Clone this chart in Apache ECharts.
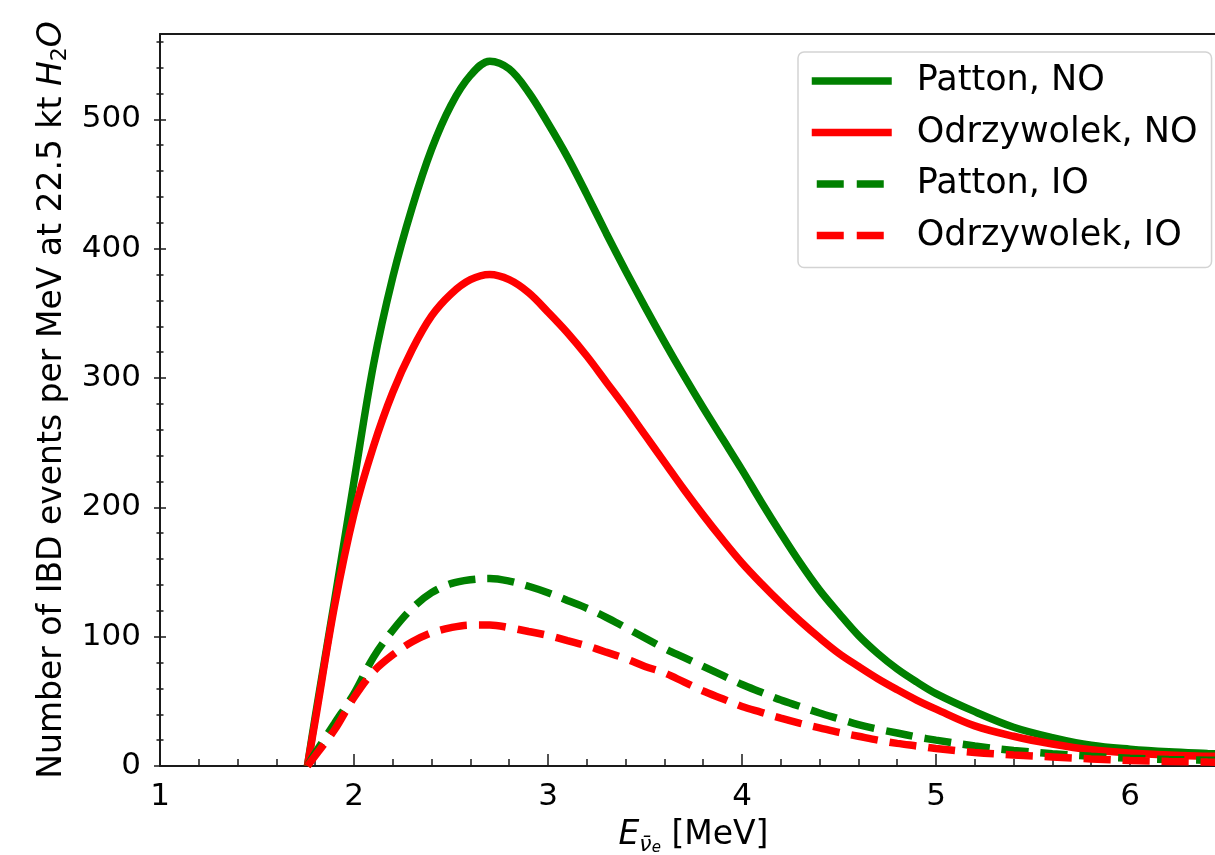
<!DOCTYPE html>
<html>
<head>
<meta charset="utf-8">
<script src="https://cdn.jsdelivr.net/npm/echarts@6/dist/echarts.min.js"></script>
<style>
  html, body { margin: 0; padding: 0; background: #fff; }
  #chart { width: 1215px; height: 855px; }
</style>
</head>
<body>
<div id="chart"></div>
<script>
// antineutrino energy [MeV]
const energies = [1.76, 1.8, 1.9, 2.0, 2.1, 2.2, 2.3, 2.4, 2.5, 2.6, 2.7, 2.8, 2.9, 3.0, 3.1, 3.2, 3.3, 3.4, 3.5, 3.6, 3.7, 3.8, 3.9, 4.0, 4.1, 4.2, 4.3, 4.4, 4.5, 4.6, 4.7, 4.8, 4.9, 5.0, 5.2, 5.4, 5.6, 5.8, 6.0, 6.2, 6.4, 6.6];

// IBD events per MeV at 22.5 kt H2O
const pattonNO = [0, 38, 128, 220, 310, 378, 432, 477, 511, 534, 545, 539, 521, 497, 471, 442, 412, 383, 355, 328, 302, 277, 253, 229, 204, 180, 157, 136, 118, 101, 87, 75, 65, 56, 42, 30, 22, 16, 13, 11, 9.7, 8.5];
const odrzywolekNO = [0, 35, 124, 195, 247, 289, 322, 348, 365, 376, 380, 376, 366, 351, 335, 317, 297, 277, 256, 235, 214, 194, 175, 157, 141, 126, 112, 99, 87, 77, 67.5, 59, 51, 44, 31, 23, 17, 12.5, 10, 8.5, 7.6, 6.8];
const pattonIO = [0, 10, 33, 56, 84, 105, 122, 134, 141, 144, 145, 143, 139, 134, 128, 122, 115, 107, 99, 91, 84, 77, 70, 63, 57, 51, 46, 41, 36.5, 32, 28.5, 25.5, 22.5, 20, 15.5, 12, 9.5, 7.5, 6, 5, 4.5, 4];
const odrzywolekIO = [0, 8, 28, 53, 73, 86, 96, 103, 107, 109, 109, 107, 104, 101, 97, 93, 88, 83, 77, 72, 65, 58, 52, 46, 41.5, 37, 33, 29.5, 26, 23, 20, 17.5, 15.5, 13.5, 10.5, 8.5, 7, 5.5, 4.2, 3.5, 3, 2.6];

const xMajorTicks = [1, 2, 3, 4, 5, 6];
const xMinorTicks = [1.2, 1.4, 1.6, 1.8, 2.2, 2.4, 2.6, 2.8, 3.2, 3.4, 3.6, 3.8, 4.2, 4.4, 4.6, 4.8, 5.2, 5.4, 5.6, 5.8, 6.2, 6.4];
const yMajorTicks = [0, 100, 200, 300, 400, 500];
const yMinorTicks = [20, 40, 60, 80, 120, 140, 160, 180, 220, 240, 260, 280, 320, 340, 360, 380, 420, 440, 460, 480, 520, 540, 560];

const GREEN = '#008000';
const RED = '#ff0000';
const INK = '#1a1a1a';
const FONT = 'DejaVu Sans';
const LINE_W = 7.5;
const DASH = [27, 12];

const X_MIN = 1, X_MAX = 6.5;
const Y_MIN = 0, Y_MAX = 566;

function toPairs(ys) {
    return energies.map((e, i) => [e, ys[i]]);
}

function makeSeries(name, ys, colour, dashed) {
    return {
        name: name,
        type: 'line',
        data: toPairs(ys),
        smooth: 0.35,
        symbol: 'none',
        itemStyle: { color: colour },
        lineStyle: { color: colour, width: LINE_W, type: dashed ? DASH : 'solid' },
        emphasis: { disabled: true }
    };
}

// legend entry: line only, the circle the line series adds is made invisible
function legendItem(name, colour, dashed) {
    return {
        name: name,
        itemStyle: { color: 'rgba(0,0,0,0)', borderWidth: 0 },
        lineStyle: dashed
            ? { color: colour, width: LINE_W, type: [27, 13], dashOffset: 35 }
            : { color: colour, width: LINE_W, type: 'solid' }
    };
}

//helper for extra axes that only draw ticks
function tickAxis(kind, values, len, offset) {
    return {
        type: 'value',
        min: kind === 'x' ? X_MIN : Y_MIN,
        max: kind === 'x' ? X_MAX : Y_MAX,
        position: kind === 'x' ? 'bottom' : 'left',
        offset: offset,
        axisLine: { show: false },
        axisLabel: { show: false },
        splitLine: { show: false },
        axisTick: {
            show: true,
            inside: true,
            length: len,
            customValues: values,
            lineStyle: { color: INK, width: 1.5 }
        }
    };
}

const chart = echarts.init(document.getElementById('chart'));

const option = {
    animation: false,
    backgroundColor: '#fff',
    grid: {
        left: 160,
        top: 34,
        width: 1067,
        height: 732,
        outerBoundsMode: 'none'
    },
    legend: {
        orient: 'vertical',
        left: 798,
        top: 52,
        padding: [9, 14, 12, 10],
        itemWidth: 80,
        itemHeight: 40,
        itemGap: 11.5,
        backgroundColor: 'rgba(255,255,255,0.8)',
        borderColor: '#d3d3d3',
        borderWidth: 1.5,
        borderRadius: 6,
        textStyle: {
            fontFamily: FONT,
            fontSize: 35,
            color: '#000',
            lineHeight: 40,
            padding: [0, 0, 0, 20]
        },
        data: [
            legendItem('Patton, NO', GREEN, false),
            legendItem('Odrzywolek, NO', RED, false),
            legendItem('Patton, IO', GREEN, true),
            legendItem('Odrzywolek, IO', RED, true)
        ]
    },
    xAxis: [
        {
            type: 'value',
            min: X_MIN,
            max: X_MAX,
            position: 'bottom',
            name: '{i|E}{s|ν̄}{e|e}{t| [MeV]}',
            nameLocation: 'middle',
            nameGap: 48,
            nameTextStyle: {
                rich: {
                    i: { fontFamily: FONT, fontStyle: 'italic', fontSize: 33, lineHeight: 42, color: '#000' },
                    s: { fontFamily: FONT, fontStyle: 'italic', fontSize: 22, lineHeight: 24, verticalAlign: 'bottom', color: '#000' },
                    e: { fontFamily: FONT, fontStyle: 'italic', fontSize: 15, lineHeight: 14, verticalAlign: 'bottom', color: '#000' },
                    t: { fontFamily: FONT, fontSize: 33, lineHeight: 42, color: '#000' }
                }
            },
            axisLine: { show: true, lineStyle: { color: INK, width: 2 } },
            axisTick: { show: false },
            splitLine: { show: false },
            axisLabel: {
                customValues: xMajorTicks,
                margin: 15,
                fontFamily: FONT,
                fontSize: 31,
                color: '#000'
            }
        },
        tickAxis('x', xMajorTicks, 12, 6),
        tickAxis('x', xMinorTicks, 7, 3.5),
        {
            type: 'value',
            min: X_MIN,
            max: X_MAX,
            position: 'top',
            axisLine: { show: true, lineStyle: { color: INK, width: 2 } },
            axisTick: { show: false },
            axisLabel: { show: false },
            splitLine: { show: false }
        }
    ],
    yAxis: [
        {
            type: 'value',
            min: Y_MIN,
            max: Y_MAX,
            position: 'left',
            name: '{t|Number of IBD events per MeV at 22.5 kt }{i|H}{s|2}{i|O}',
            nameLocation: 'middle',
            nameGap: 86,
            nameTextStyle: {
                rich: {
                    t: { fontFamily: FONT, fontSize: 33, lineHeight: 38, color: '#000' },
                    i: { fontFamily: FONT, fontStyle: 'italic', fontSize: 33, lineHeight: 38, color: '#000' },
                    s: { fontFamily: FONT, fontSize: 22, lineHeight: 22, verticalAlign: 'bottom', color: '#000' }
                }
            },
            axisLine: { show: true, lineStyle: { color: INK, width: 2 } },
            axisTick: { show: false },
            splitLine: { show: false },
            axisLabel: {
                customValues: yMajorTicks,
                margin: 19,
                fontFamily: FONT,
                fontSize: 31,
                color: '#000'
            }
        },
        tickAxis('y', yMajorTicks, 12, 6),
        tickAxis('y', yMinorTicks, 7, 3.5)
    ],
    series: [
        makeSeries('Patton, NO', pattonNO, GREEN, false),
        makeSeries('Odrzywolek, NO', odrzywolekNO, RED, false),
        makeSeries('Patton, IO', pattonIO, GREEN, true),
        makeSeries('Odrzywolek, IO', odrzywolekIO, RED, true)
    ]
};

chart.setOption(option);
window.addEventListener('resize', () => { chart.resize(); });
</script>
</body>
</html>
